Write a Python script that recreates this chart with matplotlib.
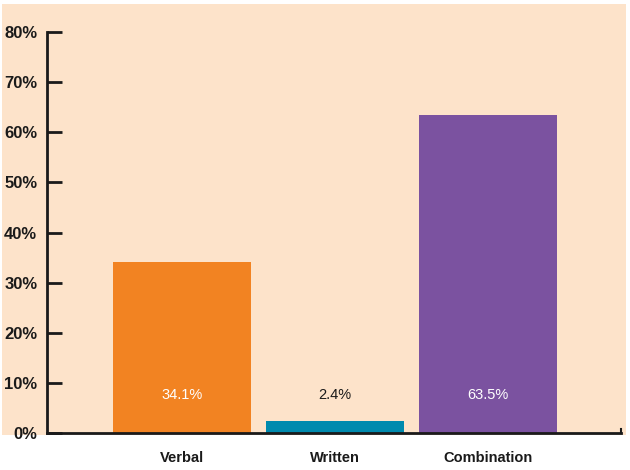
import matplotlib
matplotlib.use("Agg")
import matplotlib.pyplot as plt
from matplotlib.patches import Rectangle
from matplotlib.lines import Line2D

categories = ["Verbal", "Written", "Combination"]
values = [34.1, 2.4, 63.5]
colors = ["#F28322", "#008AAE", "#7B52A0"]
label_colors = ["white", "#1a1a1a", "white"]
yticks = [0, 10, 20, 30, 40, 50, 60, 70, 80]

font = ["Liberation Sans Narrow", "Liberation Sans", "DejaVu Sans"]
bg = "#FDE3CA"

fig = plt.figure(figsize=(6.3, 4.7), dpi=100)
fig.patch.set_facecolor("white")
fig.add_artist(Rectangle((2 / 630, 1 - 435 / 470), 624 / 630, 431 / 470,
                         transform=fig.transFigure, facecolor=bg,
                         edgecolor="none", zorder=-5))

ax = fig.add_axes([47 / 630, 37 / 470, 574 / 630, 401 / 470])
ax.set_facecolor("none")

x = range(len(categories))
ax.bar(x, values, width=0.902, color=colors, zorder=2)

for xi, v, lc in zip(x, values, label_colors):
    ax.text(xi, 7.5, f"{v}%", ha="center", va="center", color=lc,
            fontsize=10.5, family=font, zorder=3)

ax.set_xlim(-0.882, 2.869)
ax.set_ylim(0, 80)

ax.set_yticks(yticks)
ax.set_yticklabels([f"{t}%" for t in yticks], family=font,
                   fontweight="bold", fontsize=12, color="#1a1a1a")
ax.tick_params(axis="y", direction="in", length=11, width=2, pad=7,
               color="#1a1a1a")

ax.set_xticks(list(x))
ax.set_xticklabels(categories, family=font, fontweight="bold",
                   fontsize=10.5, color="#1a1a1a")
ax.tick_params(axis="x", length=0, pad=13)

for s in ["top", "right"]:
    ax.spines[s].set_visible(False)
ax.spines["left"].set_linewidth(2)
ax.spines["bottom"].set_linewidth(2)
ax.spines["left"].set_color("#1a1a1a")
ax.spines["bottom"].set_color("#1a1a1a")

# small upturn at the right end of the baseline
ax.add_line(Line2D([1, 1], [0, 0.01], transform=ax.transAxes,
                   color="#1a1a1a", linewidth=1.5, clip_on=False))

fig.savefig("out.png", dpi=100, facecolor=fig.get_facecolor())
